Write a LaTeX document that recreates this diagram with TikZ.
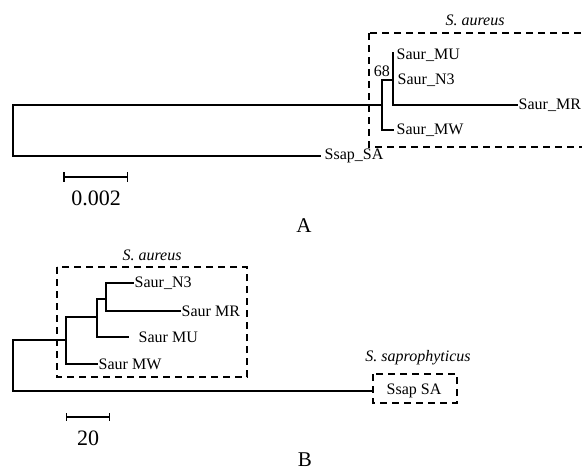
\documentclass[tikz,border=0pt]{standalone}
\usepackage{fontspec}
\setmainfont{Liberation Serif}
\begin{document}
\begin{tikzpicture}[x=1pt, y=-1pt]

			% Define custom styles for branches, labels and clade boxes
			\tikzstyle{branch} = [line width=1.5pt, line cap=rect]
			\tikzstyle{thinbranch} = [line width=1.1pt, line cap=rect]
			\tikzstyle{leaf} = [anchor=west, inner sep=1.5pt, font=\fontsize{16}{18}\selectfont]
			\tikzstyle{clade} = [line width=1.4pt, dash pattern=on 7pt off 5pt]
			\tikzstyle{cladename} = [font=\fontsize{16}{18}\selectfont\itshape]
			\tikzstyle{panel} = [anchor=base, inner sep=0pt, font=\fontsize{21}{23}\selectfont]
			\tikzstyle{scalebar} = [line width=1.5pt, |-|]

			\useasboundingbox (0,0) rectangle (582,471);

			% ---------- Tree A ----------
			\coordinate (rootA) at (13,130);
			\coordinate (nodeA1) at (382,105);
			\coordinate (nodeA2) at (393,80);
			\coordinate (tipMUa) at (393,53);
			\coordinate (tipN3a) at (393,80);
			\coordinate (tipMRa) at (517,105);
			\coordinate (tipMWa) at (393,130);
			\coordinate (tipSAa) at (320,156);

			\node[leaf] (muA) at ([xshift=2pt]tipMUa |- 0,55) {Saur\_MU};
			\node[leaf] (n3A) at ([xshift=3pt]tipN3a) {Saur\_N3};
			\node[leaf] (mrA) at (tipMRa) {Saur\_MR};
			\node[leaf] (mwA) at ([xshift=2pt]tipMWa) {Saur\_MW};
			\node[leaf] (saA) at ([xshift=3pt]tipSAa) {Ssap\_SA};
			\node[font=\fontsize{16}{18}\selectfont, anchor=east, inner sep=1pt] (bootA) at (391,71) {68};

			% Branches of tree A
			\draw[branch] (nodeA1) -| (rootA) |- (tipSAa);
			\draw[branch] (nodeA2) -| (nodeA1) |- (tipMWa);
			\draw[branch] (tipMUa) -- (393,105) -- (tipMRa);

			% Clade box of tree A
			\draw[clade] (369,33) rectangle (595,147);
			\node[cladename] (aureusA) at (475,20) {S. aureus};

			% Scale bar of tree A
			\coordinate (barA1) at (63,177);
			\coordinate (barA2) at (128,177);
			\draw[scalebar] (barA1) -- (barA2);
			\node[font=\fontsize{22}{24}\selectfont] (scaleA) at (96,198) {0.002};
			\node[panel] (labelA) at (304,232) {A};

			% ---------- Tree B ----------
			\coordinate (rootB) at (13,365);
			\coordinate (nodeB1) at (66,340);
			\coordinate (nodeB2) at (97,317);
			\coordinate (nodeB3) at (106,299);
			\coordinate (tipN3b) at (133,283);
			\coordinate (tipMRb) at (180,311);
			\coordinate (tipMUb) at (128,337);
			\coordinate (tipMWb) at (97,364);
			\coordinate (tipSAb) at (373,391);

			\node[leaf] (n3B) at (tipN3b) {Saur\_N3};
			\node[leaf] (mrB) at (tipMRb) {Saur MR};
			\node[leaf] (muB) at ([xshift=9pt]tipMUb) {Saur MU};
			\node[leaf] (mwB) at (tipMWb) {Saur MW};
			\node[leaf] (saB) at ([xshift=12pt]tipSAb) {Ssap SA};

			% Branches of tree B
			\draw[thinbranch] (nodeB1) -| (rootB) |- (tipSAb);
			\draw[thinbranch] (nodeB2) -| (nodeB1) |- (tipMWb);
			\draw[thinbranch] (nodeB3) -| (nodeB2) |- (tipMUb);
			\draw[thinbranch] (tipN3b) -| (nodeB3) |- (tipMRb);

			% Clade boxes of tree B
			\draw[clade] (57,267) rectangle (247,377);
			\node[cladename] (aureusB) at (152,255) {S. aureus};
			\draw[clade] (373,374) rectangle (457,403);
			\node[cladename] (saproB) at (418,358) {S. saprophyticus};

			% Scale bar of tree B
			\coordinate (barB1) at (66,417);
			\coordinate (barB2) at (110,417);
			\draw[scalebar, line width=1.2pt] (barB1) -- (barB2);
			\node[font=\fontsize{22}{24}\selectfont] (scaleB) at (88,438) {20};
			\node[panel] (labelB) at (305,466) {B};

		\end{tikzpicture}
\end{document}
